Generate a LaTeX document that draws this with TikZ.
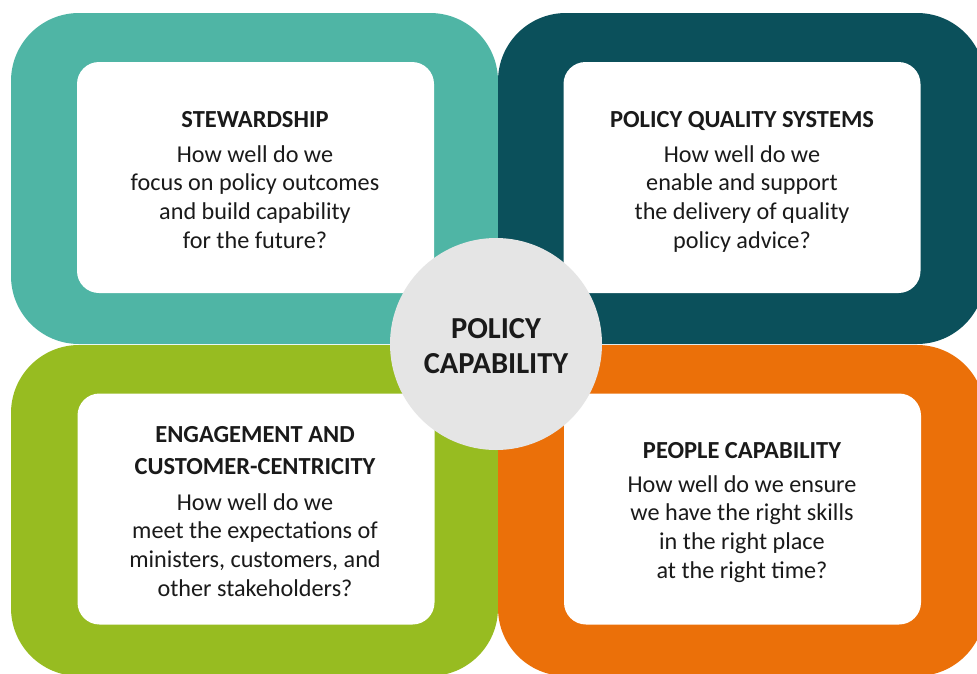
\documentclass[tikz,border=0pt]{standalone}
\usepackage{fontspec}
\setmainfont{Carlito}
\definecolor{cteal}{HTML}{4FB5A5}
\definecolor{cdark}{HTML}{0B505B}
\definecolor{cgreen}{HTML}{97BC21}
\definecolor{corange}{HTML}{EB7009}
\definecolor{cgrey}{HTML}{E5E5E5}
\definecolor{ctext}{HTML}{1A1A1A}
\begin{document}
\begin{tikzpicture}[x=1pt,y=-1pt,
  quad/.style={rectangle, rounded corners=68pt, inner sep=0pt, minimum width=487pt, minimum height=331pt},
  card/.style={rectangle, fill=white, rounded corners=22pt, inner sep=0pt, minimum width=357pt, minimum height=231pt},
  ttl/.style={align=center, inner sep=0pt, anchor=base, text=ctext, font=\bfseries\fontsize{24.5}{32}\selectfont},
  body/.style={align=center, inner sep=0pt, anchor=base, text=ctext, font=\fontsize{24.2}{28.6}\selectfont},
  hub/.style={circle, fill=cgrey, inner sep=0pt, minimum size=212pt},
  hubtext/.style={align=center, inner sep=0pt, anchor=base, text=ctext, font=\bfseries\fontsize{30.5}{35}\selectfont}]
\useasboundingbox (0,0) rectangle (977,673);
% quadrants
\node[quad, fill=cteal]   (qtl) at (254.5,178.5) {};
\node[quad, fill=cdark]   (qtr) at (741.5,178.5) {};
\node[quad, fill=cgreen]  (qbl) at (254.5,510.5) {};
\node[quad, fill=corange] (qbr) at (741.5,510.5) {};
% cards
\node[card] (ctl) at (255.5,177.5) {};
\node[card] (ctr) at (742,177.5) {};
\node[card] (cbl) at (256,509) {};
\node[card] (cbr) at (742.5,509) {};
% hub
\node[hub] (hub) at (496,344) {};
\node[hubtext] (hubt) at (496,373) {POLICY\\CAPABILITY};
% texts (base anchor = last line baseline)
\node[ttl]  (ttl1) at (255,127) {STEWARDSHIP};
\node[body] (bd1)  at (255,248) {How well do we\\focus on policy outcomes\\and build capability\\for the future?};
\node[ttl]  (ttl2) at (742,127) {POLICY QUALITY SYSTEMS};
\node[body] (bd2)  at (742,248) {How well do we\\enable and support\\the delivery of quality\\policy advice?};
\node[ttl]  (ttl3) at (255,474) {ENGAGEMENT AND\\CUSTOMER-CENTRICITY};
\node[body] (bd3)  at (255,596) {How well do we\\meet the expectations of\\ministers, customers, and\\other stakeholders?};
\node[ttl]  (ttl4) at (742,458) {PEOPLE CAPABILITY};
\node[body] (bd4)  at (742,578) {How well do we ensure\\we have the right skills\\in the right place\\at the right time?};
\end{tikzpicture}
\end{document}
